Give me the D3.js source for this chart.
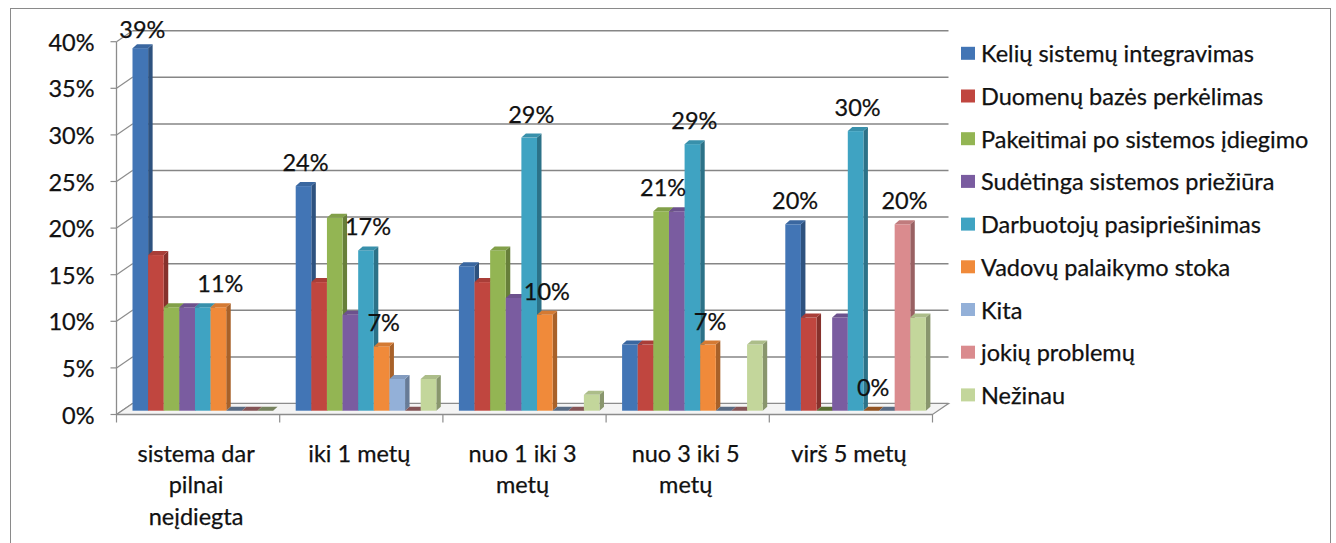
<!DOCTYPE html>
<html>
<head>
<meta charset="utf-8">
<script src="https://cdn.jsdelivr.net/npm/d3@7"></script>
<style>
  html, body { margin: 0; padding: 0; background: #ffffff; }
  svg { display: block; }
  text { font-family: Lato, "Noto Sans", sans-serif; fill: #111; stroke: #111; stroke-width: 0.25px; }
</style>
</head>
<body>
<svg id="chart" width="1336" height="543"></svg>
<script>
// Survey: problems met after installing the system, by time since installation (% of answers)
const categories = [
  "sistema dar pilnai neįdiegta",
  "iki 1 metų",
  "nuo 1 iki 3 metų",
  "nuo 3 iki 5 metų",
  "virš 5 metų"
];

const seriesNames = [
  "Kelių sistemų integravimas",
  "Duomenų bazės perkėlimas",
  "Pakeitimai po sistemos įdiegimo",
  "Sudėtinga sistemos priežiūra",
  "Darbuotojų pasipriešinimas",
  "Vadovų palaikymo stoka",
  "Kita",
  "jokių problemų",
  "Nežinau"
];

const seriesColors = [
  "#4275B5", "#C0463F", "#93B553", "#7A5CA0", "#3FA3C2",
  "#F08A3A", "#93B0D8", "#DA8B8E", "#C3D69B"
];

// One row per series, one value per category (percent)
const kelių       = [38.9, 24.1, 15.5,  7.1, 20];
const duomenų     = [16.7, 13.8, 13.8,  7.1, 10];
const pakeitimai  = [11.1, 20.7, 17.2, 21.4,  0];
const sudėtinga   = [11.1, 10.3, 12.1, 21.4, 10];
const darbuotojų  = [11.1, 17.2, 29.3, 28.6, 30];
const vadovų      = [11.1,  6.9, 10.3,  7.1,  0];
const kita        = [0,     3.4,  0,    0,    0];
const jokių       = [0,     0,    0,    0,   20];
const nežinau     = [0,     3.4,  1.7,  7.1, 10];

const seriesValues = [kelių, duomenų, pakeitimai, sudėtinga, darbuotojų, vadovų, kita, jokių, nežinau];

// Data labels shown on the chart: [series index, category index]
const labelledPoints = [
  [0, 0], [5, 0],
  [0, 1], [4, 1], [5, 1],
  [4, 2], [5, 2],
  [2, 3], [4, 3], [5, 3],
  [0, 4], [4, 4], [5, 4], [7, 4]
];

const yTicks = [0, 5, 10, 15, 20, 25, 30, 35, 40];

const svg = d3.select("#chart");
const FONT = 23.5;

// Chart area frame
svg.append("rect")
  .attr("x", 10.5).attr("y", 8.5)
  .attr("width", 1320).attr("height", 560)
  .attr("fill", "#fff").attr("stroke", "#8a8a8a").attr("stroke-width", 1);

// 3D projection offsets
const WALL_DX = 16;     // front axis -> back wall
const FRONT_DY = 11;    // back wall -> front edge (down)
const BAR_DY = 7.2;     // back wall -> bar base
const BAR_DEPTH_X = 4.5, BAR_DEPTH_Y = 4;

const x = d3.scaleBand().domain(categories).range([116.5, 932.5]).padding(0);
const xs = d3.scaleBand().domain(d3.range(seriesNames.length)).range([16, 156.6]).padding(0);
const y = d3.scaleLinear().domain([0, 40]).range([403.5, 30.7]);

const x0 = x.range()[0], x1 = x.range()[1];

// Back wall gridlines
const grid = svg.append("g");
grid.selectAll("line.grid").data(yTicks).join("line")
  .attr("x1", x0 + WALL_DX).attr("x2", x1 + WALL_DX)
  .attr("y1", d => y(d)).attr("y2", d => y(d))
  .attr("stroke", "#868686").attr("stroke-width", 1.5);

// Side wall connectors from front axis to gridlines
grid.selectAll("line.side").data(yTicks).join("line")
  .attr("x1", x0).attr("x2", x0 + WALL_DX)
  .attr("y1", d => y(d) + FRONT_DY).attr("y2", d => y(d))
  .attr("stroke", "#8c8c8c").attr("stroke-width", 1.2);

// Floor
svg.append("polygon")
  .attr("points", [
    [x0, y(0) + FRONT_DY], [x1, y(0) + FRONT_DY],
    [x1 + WALL_DX, y(0)], [x0 + WALL_DX, y(0)]
  ].map(p => p.join(",")).join(" "))
  .attr("fill", "#f4f4f4").attr("stroke", "#8c8c8c").attr("stroke-width", 1.2);

// Y axis (front edge)
const yAxisG = svg.append("g");
yAxisG.append("line")
  .attr("x1", x0).attr("x2", x0)
  .attr("y1", y(40) + FRONT_DY).attr("y2", y(0) + FRONT_DY)
  .attr("stroke", "#8c8c8c").attr("stroke-width", 1.3);
yAxisG.selectAll("line.tick").data(yTicks).join("line")
  .attr("x1", x0 - 6).attr("x2", x0)
  .attr("y1", d => y(d) + FRONT_DY).attr("y2", d => y(d) + FRONT_DY)
  .attr("stroke", "#8c8c8c").attr("stroke-width", 1.2);
yAxisG.selectAll("text").data(yTicks).join("text")
  .attr("x", x0 - 22).attr("y", d => y(d) + FRONT_DY)
  .attr("text-anchor", "end").attr("dominant-baseline", "central")
  .attr("font-size", FONT)
  .text(d => d + "%");

// X axis (front edge of floor)
const xAxisG = svg.append("g");
xAxisG.append("line")
  .attr("x1", x0).attr("x2", x1)
  .attr("y1", y(0) + FRONT_DY).attr("y2", y(0) + FRONT_DY)
  .attr("stroke", "#8c8c8c").attr("stroke-width", 1.3);
const bounds = categories.map(c => x(c)).concat([x1]);
xAxisG.selectAll("line.tick").data(bounds).join("line")
  .attr("x1", d => d).attr("x2", d => d)
  .attr("y1", y(0) + FRONT_DY).attr("y2", y(0) + FRONT_DY + 8)
  .attr("stroke", "#8c8c8c").attr("stroke-width", 1.2);

// Category labels, wrapped to the band width
const catG = xAxisG.selectAll("text.cat").data(categories).join("text")
  .attr("class", "cat")
  .attr("text-anchor", "middle")
  .attr("font-size", FONT)
  .attr("x", d => x(d) + x.bandwidth() / 2 - 2)
  .attr("y", 461.7);
catG.each(function(d) {
  const t = d3.select(this);
  const words = d.split(" ");
  const maxW = 140;
  let line = [];
  let lines = [];
  const probe = t.append("tspan");
  words.forEach(w => {
    const test = line.concat([w]).join(" ");
    probe.text(test);
    if (probe.node().getComputedTextLength() > maxW && line.length) {
      lines.push(line.join(" "));
      line = [w];
    } else {
      line.push(w);
    }
  });
  lines.push(line.join(" "));
  probe.remove();
  lines.forEach((l, i) => {
    t.append("tspan")
      .attr("x", x(d) + x.bandwidth() / 2 - 2)
      .attr("dy", i === 0 ? 0 : 31.5)
      .text(l);
  });
});

// 3D bars, drawn left to right so each bar overlaps its neighbour's side
const yBar = v => y(v) + BAR_DY;
const barsG = svg.append("g");
const barData = [];
categories.forEach((c, ci) => {
  seriesNames.forEach((s, si) => {
    barData.push({ ci, si, c, v: seriesValues[si][ci] });
  });
});

barData.forEach(d => {
  const bx = x(d.c) + xs(d.si);
  const bw = xs.bandwidth();
  const top = yBar(d.v);
  const base = yBar(0);
  const col = d3.rgb(seriesColors[d.si]);
  const g = barsG.append("g");
  // right side face
  g.append("polygon")
    .attr("points", [
      [bx + bw, top], [bx + bw + BAR_DEPTH_X, top - BAR_DEPTH_Y],
      [bx + bw + BAR_DEPTH_X, base - BAR_DEPTH_Y], [bx + bw, base]
    ].map(p => p.join(",")).join(" "))
    .attr("fill", col.darker(1.0));
  // front face
  if (d.v > 0) {
    g.append("rect")
      .attr("x", bx).attr("y", top)
      .attr("width", bw).attr("height", base - top)
      .attr("fill", col);
  }
  // top face
  g.append("polygon")
    .attr("points", [
      [bx, top], [bx + BAR_DEPTH_X, top - BAR_DEPTH_Y],
      [bx + bw + BAR_DEPTH_X, top - BAR_DEPTH_Y], [bx + bw, top]
    ].map(p => p.join(",")).join(" "))
    .attr("fill", d.v > 0 ? col.darker(0.35) : col.darker(1.4));
});

// Data labels
svg.append("g").selectAll("text").data(labelledPoints).join("text")
  .attr("text-anchor", "middle").attr("dominant-baseline", "central")
  .attr("font-size", FONT)
  .attr("x", ([si, ci]) => x(categories[ci]) + xs(si) + xs.bandwidth() / 2 + 2)
  .attr("y", ([si, ci]) => Math.max(yBar(seriesValues[si][ci]) - 24, 29))
  .text(([si, ci]) => Math.round(seriesValues[si][ci]) + "%");

// Legend
const legend = svg.append("g").attr("transform", "translate(961,53.3)");
const items = legend.selectAll("g").data(seriesNames).join("g")
  .attr("transform", (d, i) => `translate(0,${i * 42.7})`);
items.append("rect")
  .attr("x", 0).attr("y", -6.5).attr("width", 14).attr("height", 13)
  .attr("fill", (d, i) => seriesColors[i])
  .style("stroke", "none");
items.append("text")
  .attr("x", 20).attr("y", 0)
  .attr("dominant-baseline", "central")
  .attr("font-size", FONT)
  .text(d => d);
</script>
</body>
</html>
